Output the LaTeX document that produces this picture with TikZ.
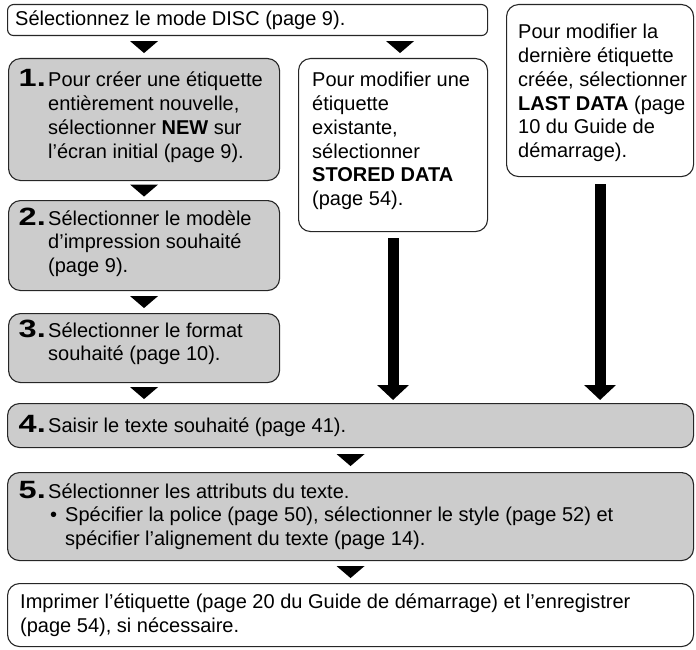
\documentclass[tikz,border=0pt]{standalone}
\usepackage{fontspec}
\setmainfont{Liberation Sans}
\usepackage{graphicx}
\usetikzlibrary{arrows.meta,calc}
\tikzset{
  box/.style={draw=black!85, line width=1.1pt, rounded corners=12pt, inner sep=0pt, anchor=north west},
  graybox/.style={box, fill=black!20},
  whitebox/.style={box, fill=white},
  txt/.style={anchor=base west, inner sep=0pt, font=\fontsize{20}{24}\selectfont},
  num/.style={anchor=base east, inner sep=0pt, font=\fontsize{25}{30}\selectfont\bfseries},
  tri/.pic={\fill[black] (-14,-6) -- (14,-6) -- (0,6) -- cycle;},
  bigarrow/.style={line width=11pt, -{Triangle[width=31pt,length=15pt]}}
}
\newcommand{\stepnum}[1]{\scalebox{1.3}[1]{#1}}
\begin{document}
\begin{tikzpicture}[x=1pt,y=-1pt]
\useasboundingbox (0,0) rectangle (696,650);
% boxes
\node[whitebox, rounded corners=6pt, minimum width=480pt, minimum height=31pt] (top) at (7,4) {};
\node[whitebox, minimum width=187pt, minimum height=172pt] (last) at (506,4) {};
\node[graybox, minimum width=271pt, minimum height=122pt] (b1) at (8,58) {};
\node[whitebox, minimum width=189pt, minimum height=173pt] (mid) at (298,58) {};
\node[graybox, minimum width=271pt, minimum height=90pt] (b2) at (8,200) {};
\node[graybox, minimum width=271pt, minimum height=69pt] (b3) at (8,313) {};
\node[graybox, minimum width=686pt, minimum height=44pt] (b4) at (7,403) {};
\node[graybox, minimum width=686pt, minimum height=88pt] (b5) at (7,472) {};
\node[whitebox, minimum width=686pt, minimum height=63pt] (b6) at (7,583) {};
% small connectors
\pic at ($(top.south -| b1.south)!0.5!(b1.north)$) {tri};
\pic at ($(top.south -| mid.south)!0.5!(mid.north)+(7,0)$) {tri};
\pic at ($(b1.south)!0.5!(b2.north)$) {tri};
\pic at ($(b2.south)!0.5!(b3.north)$) {tri};
\pic at ($(b3.south)!0.5!(b3.south |- b4.north)$) {tri};
\pic at ($(b4.south)!0.5!(b5.north)$) {tri};
\pic at ($(b5.south)!0.5!(b6.north)$) {tri};
% big arrows
\draw[bigarrow] ([yshift=-6pt]mid.south) -- ([yshift=3pt]mid.south |- b4.north);
\draw[bigarrow] ([yshift=-7pt]last.south) -- ([yshift=3pt]last.south |- b4.north);
% texts
\node[txt] (t0) at (15,26) {Sélectionnez le mode DISC (page 9).};
\node[txt] (r1) at (518,39) {Pour modifier la};
\node[txt] (r2) at (518,62.7) {dernière étiquette};
\node[txt] (r3) at (518,86.4) {créée, sélectionner};
\node[txt] (r4) at (518,110.1) {\textbf{LAST DATA} (page};
\node[txt] (r5) at (518,133.8) {10 du Guide de};
\node[txt] (r6) at (518,157.5) {démarrage).};
\node[txt] (m1) at (312,87) {Pour modifier une};
\node[txt] (m2) at (312,110.7) {étiquette};
\node[txt] (m3) at (312,134.4) {existante,};
\node[txt] (m4) at (312,158.1) {sélectionner};
\node[txt] (m5) at (312,181.8) {\textbf{STORED DATA}};
\node[txt] (m6) at (312,205.5) {(page 54).};
\node[num] (n1) at (46,87) {\stepnum{1.}};
\node[txt] (a1) at (48,87) {Pour créer une étiquette};
\node[txt] (a2) at (48,110.7) {entièrement nouvelle,};
\node[txt] (a3) at (48,134.4) {sélectionner \textbf{NEW} sur};
\node[txt] (a4) at (48,158.1) {l’écran initial (page 9).};
\node[num] (n2) at (46,225) {\stepnum{2.}};
\node[txt] (c1) at (48,225) {Sélectionner le modèle};
\node[txt] (c2) at (48,248.7) {d’impression souhaité};
\node[txt] (c3) at (48,272.4) {(page 9).};
\node[num] (n3) at (46,337) {\stepnum{3.}};
\node[txt] (d1) at (48,337) {Sélectionner le format};
\node[txt] (d2) at (48,360.7) {souhaité (page 10).};
\node[num] (n4) at (46,432) {\stepnum{4.}};
\node[txt] (e1) at (48,432) {Saisir le texte souhaité (page 41).};
\node[num] (n5) at (46,498) {\stepnum{5.}};
\node[txt] (f1) at (48,498) {Sélectionner les attributs du texte.};
\node[txt] (fb) at (50,521.5) {•};
\node[txt] (f2) at (65,521.5) {Spécifier la police (page 50), sélectionner le style (page 52) et};
\node[txt] (f3) at (65,545) {spécifier l’alignement du texte (page 14).};
\node[txt] (g1) at (20,608) {Imprimer l’étiquette (page 20 du Guide de démarrage) et l’enregistrer};
\node[txt] (g2) at (20,632) {(page 54), si nécessaire.};
\end{tikzpicture}
\end{document}
